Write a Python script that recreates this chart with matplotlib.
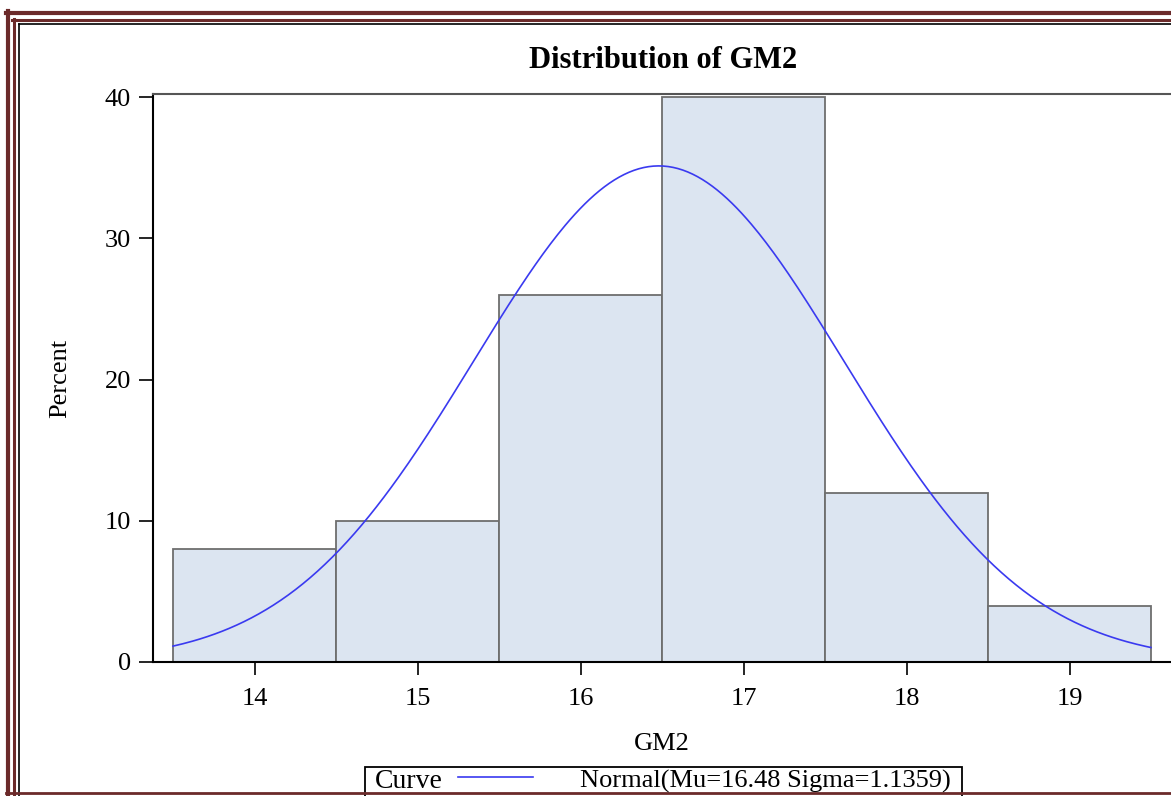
import numpy as np
import matplotlib.pyplot as plt
from matplotlib.patches import Rectangle
from matplotlib.lines import Line2D

# histogram of GM2 (percent per bin), bin width 1
bin_centers = [14, 15, 16, 17, 18, 19]
percents = [8, 10, 26, 40, 12, 4]
mu = 16.48
sigma = 1.1359
x_ticks = [14, 15, 16, 17, 18, 19]
y_ticks = [0, 10, 20, 30, 40]

W, H = 1171, 796
plt.rcParams['font.family'] = ['Liberation Serif', 'DejaVu Serif']

fig = plt.figure(figsize=(W / 100, H / 100), dpi=100)

def px(x0, y0, x1, y1):
    # convert pixel box (top-left origin) to figure fraction rect
    return [x0 / W, 1 - y1 / H, (x1 - x0) / W, (y1 - y0) / H]

ax = fig.add_axes(px(153, 94, 1171, 662))
ax.bar(bin_centers, percents, width=1.0, color='#dce5f1',
       edgecolor='#6e6e6e', linewidth=1.3)

xs = np.linspace(13.5, 19.5, 400)
curve = 100 * 1.0 * np.exp(-0.5 * ((xs - mu) / sigma) ** 2) / (sigma * np.sqrt(2 * np.pi))
ax.plot(xs, curve, color='#3a3af0', linewidth=1.2)

ax.set_xlim(13.5 - 20 / 163, 13.5 + (1171 - 173) / 163)
ax.set_ylim(0, 40 + 3 / 14.125)
ax.set_xticks(x_ticks)
ax.set_yticks(y_ticks)
ax.tick_params(axis='both', labelsize=19, direction='out', width=1.2)
ax.tick_params(axis='y', length=10, pad=6)
ax.tick_params(axis='x', length=9, pad=10)
ax.spines['right'].set_visible(False)
ax.spines['left'].set_linewidth(1.5)
ax.spines['bottom'].set_linewidth(1.5)
ax.spines['top'].set_color('#555555')
ax.spines['top'].set_linewidth(1.5)
ax.set_xlabel('GM2', fontsize=19, labelpad=16)
ax.set_ylabel('Percent', fontsize=19, labelpad=24)
fig.text(663 / W, 1 - 60 / H, 'Distribution of GM2', ha='center', va='center',
         fontsize=22, fontweight='bold')

# legend box at the bottom (cropped by the page border)
fig.patches.append(Rectangle((365 / W, 1 - 800 / H), (962 - 365) / W, 33 / H,
                             transform=fig.transFigure, fill=False,
                             edgecolor='black', linewidth=1.3))
fig.text(375 / W, 1 - 781 / H, 'Curve', ha='left', va='center', fontsize=20)
fig.add_artist(Line2D([458 / W, 533 / W], [1 - 777 / H, 1 - 777 / H],
                      transform=fig.transFigure, color='#3a3af0', linewidth=1.2))
fig.text(580 / W, 1 - 781 / H, 'Normal(Mu=16.48 Sigma=1.1359)', ha='left',
         va='center', fontsize=19)

# page border: maroon double line and a black inner line
maroon = '#6b2a2a'
def hline(y, lw, c, x0=6):
    fig.add_artist(Line2D([x0 / W, 1], [1 - y / H, 1 - y / H],
                          transform=fig.transFigure, color=c, linewidth=lw))
def vline(x, lw, c, y0):
    fig.add_artist(Line2D([x / W, x / W], [1 - y0 / H, 0],
                          transform=fig.transFigure, color=c, linewidth=lw))

hline(13, 3.0, maroon, 6)
hline(20, 2.2, maroon, 12)
hline(24, 1.2, 'black', 18.5)
vline(7.5, 3.0, maroon, 11)
vline(13.5, 2.2, maroon, 19)
vline(19, 1.2, 'black', 23.5)
hline(793, 2.0, maroon, 6)

fig.savefig('out.png', dpi=100)
